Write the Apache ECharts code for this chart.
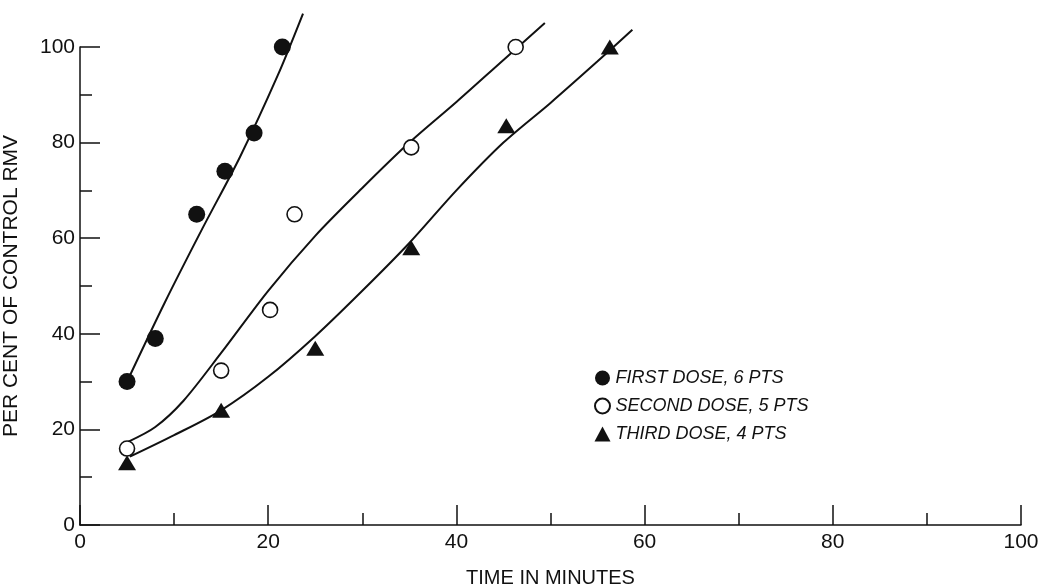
<!DOCTYPE html>
<html>
<head>
<meta charset="utf-8">
<script src="https://cdn.jsdelivr.net/npm/echarts@6/dist/echarts.min.js"></script>
<style>
  html, body { margin: 0; padding: 0; background: #fff; }
  #main { width: 1042px; height: 586px; }
</style>
</head>
<body>
<div id="main"></div>
<script>
// measured points (time in minutes, per cent of control RMV)
var firstDosePts = [[5, 30], [8, 39], [12.4, 65], [15.4, 74], [18.5, 82], [21.5, 100]];
var secondDosePts = [[5, 16], [15, 32.3], [20.2, 45], [22.8, 65], [35.2, 79], [46.3, 100]];
var thirdDosePts = [[5, 13], [15, 24], [25, 37], [35.2, 58], [45.3, 83.5], [56.3, 100]];

// hand drawn fitted curves
var firstCurve = [[5, 30], [9, 46.5], [13, 62], [17, 77], [21, 94], [23.7, 107]];
var secondCurve = [[5.1, 17.4], [8, 20.5], [11, 26], [15, 36], [20, 49], [25, 60.5], [30, 70.5], [35, 80], [40, 88.5], [45, 97.3], [49.4, 105]];
var thirdCurve = [[5.3, 14.3], [10, 18.8], [15, 24], [20, 31], [25, 39.5], [30, 49], [35, 59], [40, 70], [45, 80], [50, 88.3], [55, 97], [58.7, 103.6]];

var legendNames = ['FIRST DOSE, 6 PTS', 'SECOND DOSE, 5 PTS', 'THIRD DOSE, 4 PTS'];

var ink = '#111';
var font = 'Liberation Sans';

var chart = echarts.init(document.getElementById('main'));

function curve(data) {
  return {
    type: 'line',
    data: data,
    smooth: 0.3,
    showSymbol: false,
    clip: false,
    silent: true,
    lineStyle: { color: ink, width: 2 },
    z: 1
  };
}

chart.setOption({
  animation: false,
  backgroundColor: '#fff',
  grid: { left: 80, right: 21, top: 47, bottom: 61, outerBoundsMode: 'none' },
  legend: {
    data: legendNames,
    orient: 'vertical',
    left: 589,
    top: 364,
    itemWidth: 16,
    itemHeight: 15,
    itemGap: 10,
    textStyle: { color: ink, fontFamily: font, fontStyle: 'italic', fontSize: 18 }
  },
  xAxis: {
    type: 'value',
    min: 0,
    max: 100,
    interval: 20,
    name: 'TIME IN MINUTES',
    nameLocation: 'middle',
    nameGap: 43,
    nameTextStyle: { color: ink, fontFamily: font, fontSize: 20 },
    axisLine: { lineStyle: { color: ink, width: 1.5 } },
    axisTick: { inside: true, length: 20, lineStyle: { color: ink, width: 1.5 } },
    minorTick: { show: true, splitNumber: 2, length: 12, lineStyle: { color: ink, width: 1.5 } },
    axisLabel: { color: ink, fontFamily: font, fontSize: 21, margin: 7 },
    splitLine: { show: false }
  },
  yAxis: {
    type: 'value',
    min: 0,
    max: 100,
    interval: 20,
    name: 'PER CENT OF CONTROL RMV',
    nameLocation: 'middle',
    nameGap: 58,
    nameTextStyle: { color: ink, fontFamily: font, fontSize: 21 },
    axisLine: { show: true, lineStyle: { color: ink, width: 1.5 } },
    axisTick: { show: true, inside: true, length: 20, lineStyle: { color: ink, width: 1.5 } },
    minorTick: { show: true, splitNumber: 2, length: 12, lineStyle: { color: ink, width: 1.5 } },
    axisLabel: { color: ink, fontFamily: font, fontSize: 21, margin: 5 },
    splitLine: { show: false }
  },
  series: [
    curve(firstCurve),
    curve(secondCurve),
    curve(thirdCurve),
    {
      name: legendNames[0],
      type: 'scatter',
      data: firstDosePts,
      symbol: 'circle',
      symbolSize: 17,
      itemStyle: { color: ink, opacity: 1 },
      z: 3
    },
    {
      name: legendNames[1],
      type: 'scatter',
      data: secondDosePts,
      symbol: 'circle',
      symbolSize: 15,
      itemStyle: { color: '#fff', borderColor: ink, borderWidth: 1.6, opacity: 1 },
      z: 3
    },
    {
      name: legendNames[2],
      type: 'scatter',
      data: thirdDosePts,
      symbol: 'triangle',
      symbolSize: [18, 15],
      itemStyle: { color: ink, opacity: 1 },
      z: 3
    }
  ]
});
</script>
</body>
</html>
